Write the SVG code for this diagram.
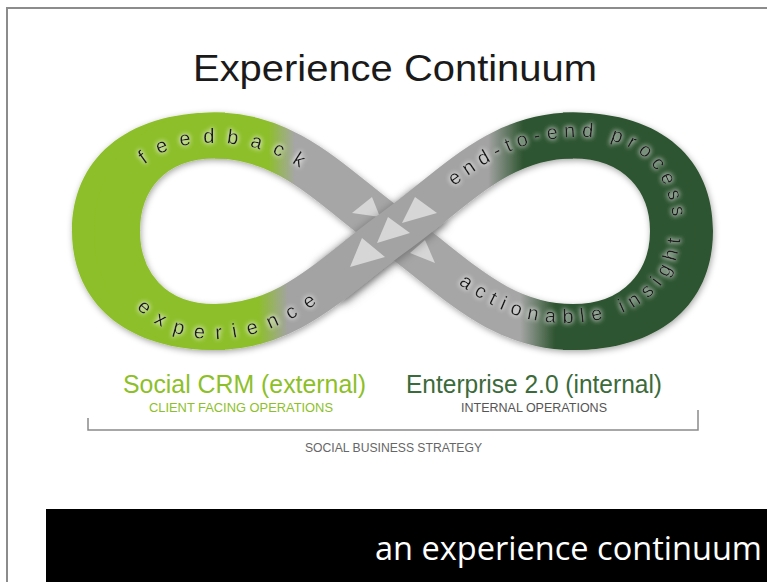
<svg xmlns="http://www.w3.org/2000/svg" width="767" height="582" viewBox="0 0 767 582">
<defs>
<style>
.sans{font-family:"Liberation Sans",Arial,sans-serif;}
.band{font-family:"Liberation Sans",Arial,sans-serif;font-size:20px;fill:#1e1e1e;}
.strand{fill:none;stroke-width:46;stroke-linecap:butt;}
.tri{fill:#d6d6d6;}
</style>
<linearGradient id="gBack" gradientUnits="userSpaceOnUse" x1="200" y1="0" x2="600" y2="0">
<stop offset="0" stop-color="#8dbf29"/>
<stop offset="0.17" stop-color="#8dbf29"/>
<stop offset="0.2375" stop-color="#a6a6a6"/>
<stop offset="0.8" stop-color="#a6a6a6"/>
<stop offset="0.8875" stop-color="#2e5530"/>
<stop offset="1" stop-color="#2e5530"/>
</linearGradient>
<linearGradient id="gFront" gradientUnits="userSpaceOnUse" x1="200" y1="0" x2="600" y2="0">
<stop offset="0" stop-color="#8dbf29"/>
<stop offset="0.145" stop-color="#8dbf29"/>
<stop offset="0.22" stop-color="#a3a3a3"/>
<stop offset="0.72" stop-color="#a3a3a3"/>
<stop offset="0.8075" stop-color="#2e5530"/>
<stop offset="1" stop-color="#2e5530"/>
</linearGradient>
<filter id="shadow" filterUnits="userSpaceOnUse" x="0" y="0" width="767" height="582">
<feGaussianBlur in="SourceAlpha" stdDeviation="3"/>
<feOffset dx="1" dy="2" result="b"/>
<feFlood flood-color="#000" flood-opacity="0.35"/>
<feComposite in2="b" operator="in"/>
<feMerge><feMergeNode/><feMergeNode in="SourceGraphic"/></feMerge>
</filter>
<filter id="blur" filterUnits="userSpaceOnUse" x="0" y="0" width="767" height="582">
<feGaussianBlur stdDeviation="4"/>
</filter>
<filter id="glow" filterUnits="userSpaceOnUse" x="0" y="0" width="767" height="582">
<feGaussianBlur in="SourceAlpha" stdDeviation="2.5" result="b"/>
<feFlood flood-color="#ffffff" flood-opacity="0.7"/>
<feComposite in2="b" operator="in" result="w"/>
<feMerge><feMergeNode in="w"/><feMergeNode in="w"/><feMergeNode in="SourceGraphic"/></feMerge>
</filter>
<path id="pFeedback" d="M 120,236 C 120,172 152,143 215,143 C 262,143 298,162 332,192"/>
<path id="pExperience" d="M 108,231 C 108,292 150,339 212,339 C 262,339 302,318 342,284"/>
<path id="pProcess" d="M 420,214 C 470,172 512,137 580,137 C 637,137 671,168 674,231"/>
<path id="pInsight" d="M 430,262 C 475,298 510,323 565,323 C 630,323 679,290 681,231"/>
</defs>

<rect x="0" y="0" width="767" height="582" fill="#ffffff"/>
<g id="frame" fill="none" stroke="#8c8c8c" stroke-width="2">
<path d="M 7,582 L 7,8 L 767,8"/>
</g>

<g id="title">
<text class="sans" x="193" y="81" font-size="37" fill="#1a1a1a" textLength="404" lengthAdjust="spacingAndGlyphs">Experience Continuum</text>
</g>

<g id="infinity" filter="url(#shadow)">
<g id="loop-left">
<path d="M 215,112.5 C 125,112.5 72,160 72,231 C 72,302 125,350 215,350 L 215,327 C 150,327 117,282 117,231 C 117,180 150,135.5 215,135.5 Z" fill="#8dbf29"/>
<path class="strand" stroke="#8dbf29" d="M 225,135.5 L 215,135.5 C 150,135.5 117,180 117,231 C 117,282 150,327 215,327 L 225,327"/>
</g>
<g id="loop-right">
<path d="M 573,112.5 C 663,112.5 713,160 713,231 C 713,302 663,350 573,350 L 573,327 C 638,327 673,282 673,231 C 673,180 638,135.5 573,135.5 Z" fill="#2e5530"/>
<path class="strand" stroke="#2e5530" d="M 563,135.5 L 573,135.5 C 638,135.5 673,180 673,231 C 673,282 638,327 573,327 L 563,327"/>
</g>
<g id="connectors">
<path id="back-strand" class="strand" stroke="url(#gBack)" d="M 573,327 C 498,327 454,275 394,232 C 334,189 290,135.5 215,135.5"/>
<polygon class="tri" points="352,213 372,197 380,217"/>
<polygon class="tri" points="410,253 425,240 435,263"/>
<path fill="none" stroke="#000" stroke-opacity="0.3" stroke-width="48" stroke-dasharray="0 125 130 1000" filter="url(#blur)" d="M 215,329 C 290,329 334,277 394,234 C 454,191 498,137.5 573,137.5"/>
<path id="front-strand" class="strand" stroke="url(#gFront)" d="M 215,327 C 290,327 334,275 394,232 C 454,189 498,135.5 573,135.5"/>
<polygon class="tri" points="402,223 415,197 437,213"/>
<polygon class="tri" points="377,243 388,217 410,233"/>
<polygon class="tri" points="350,267 362,238 385,257"/>
</g>
</g>

<g id="band-labels" filter="url(#glow)">
<text class="band" letter-spacing="12" text-anchor="middle"><textPath href="#pFeedback" startOffset="166">feedback</textPath></text>
<text class="band" letter-spacing="11" text-anchor="middle"><textPath href="#pExperience" startOffset="188">experience</textPath></text>
<text class="band" letter-spacing="6" text-anchor="middle"><textPath href="#pProcess" startOffset="184">end-to-end process</textPath></text>
<text class="band" letter-spacing="7" text-anchor="middle"><textPath href="#pInsight" startOffset="176">actionable insight</textPath></text>
</g>

<g id="social-crm">
<text class="sans" x="123" y="393" font-size="25" fill="#8dbf29" textLength="243" lengthAdjust="spacingAndGlyphs">Social CRM (external)</text>
<text class="sans" x="149" y="412" font-size="12.5" fill="#8dbf29" textLength="184" lengthAdjust="spacingAndGlyphs">CLIENT FACING OPERATIONS</text>
</g>
<g id="enterprise">
<text class="sans" x="406" y="393" font-size="25" fill="#3b6a3b" textLength="256" lengthAdjust="spacingAndGlyphs">Enterprise 2.0 (internal)</text>
<text class="sans" x="461" y="412" font-size="12.5" fill="#555555" textLength="146" lengthAdjust="spacingAndGlyphs">INTERNAL OPERATIONS</text>
</g>
<g id="strategy">
<path d="M 88,418 L 88,430 L 698,430 L 698,410" fill="none" stroke="#8a8a8a" stroke-width="1.5"/>
<text class="sans" x="305" y="452" font-size="12" fill="#666666" textLength="177" lengthAdjust="spacingAndGlyphs">SOCIAL BUSINESS STRATEGY</text>
</g>

<g id="caption">
<rect x="46" y="509" width="721" height="73" fill="#000000"/>
<text x="375" y="560" font-family="'Open Sans','Liberation Sans',sans-serif" font-size="32.5" fill="#ffffff" textLength="387" lengthAdjust="spacingAndGlyphs">an experience continuum</text>
</g>
</svg>
